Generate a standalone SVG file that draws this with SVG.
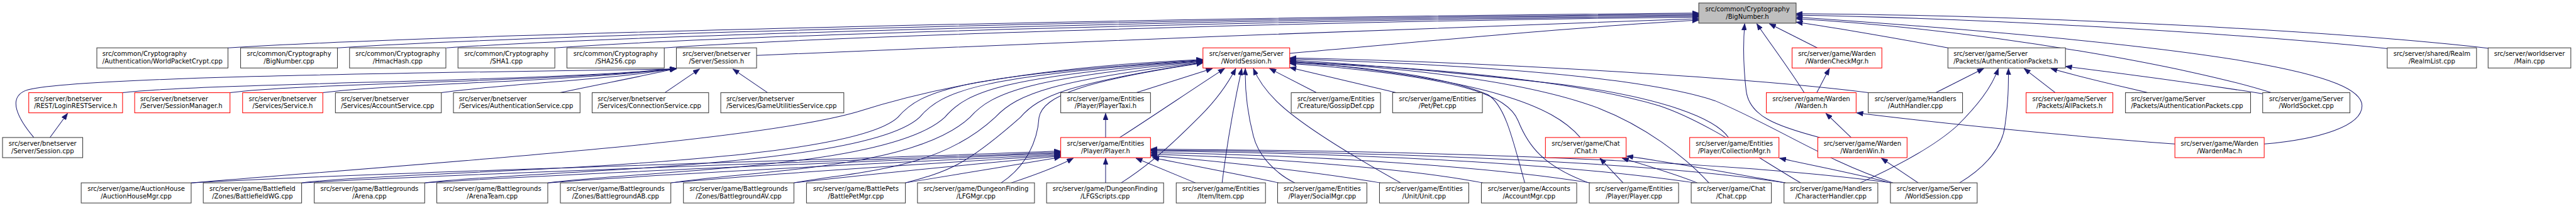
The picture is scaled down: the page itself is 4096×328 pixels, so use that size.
<svg xmlns="http://www.w3.org/2000/svg" width="4096" height="328" viewBox="0 0 4096 328">
<style>
.node rect{fill:#fff;stroke:#3a3a3a;stroke-width:1.3}
.red rect{stroke:#ff0000}
.root rect{fill:#bfbfbf}
.node text{font-family:"DejaVu Sans","Liberation Sans",sans-serif;font-size:12.55px;fill:#000}
.node text.m{text-anchor:middle}
#edges path{fill:none;stroke:#191970;stroke-width:1.25;marker-end:url(#a)}
</style>
<defs>
<marker id="a" markerUnits="userSpaceOnUse" markerWidth="14" markerHeight="10" viewBox="0 0 14 10" refX="13" refY="5" orient="auto"><path d="M0,0 L13,5 L0,10 z" fill="#191970" stroke="#191970" stroke-width="0.8"/></marker>
</defs>
<rect width="4096" height="328" fill="#fff"/>
<g transform="scale(0.802)">
<g id="edges">
<path d="M452,95 C 900,68 2200,36 3368,26"/>
<path d="M669,95 C 1100,68 2300,37 3368,28"/>
<path d="M885,95 C 1250,70 2400,38 3368,30"/>
<path d="M1100,95 C 1450,70 2500,40 3368,32"/>
<path d="M1317,95 C 1650,72 2600,42 3368,34"/>
<path d="M1500,110 C 2000,90 2900,50 3368,37"/>
<path d="M2557,106 C 2800,85 3100,55 3368,40"/>
<path d="M3862,95 C 3780,80 3660,58 3561,44"/>
<path d="M4503,184 C 4350,135 3950,60 3561,37"/>
<path d="M4489,286 C 4600,276 4683,250 4683,210 C 4683,150 4450,95 3561,34"/>
<path d="M4738,97 C 4500,72 4000,38 3561,30"/>
<path d="M4935,96 C 4600,58 4000,30 3561,27"/>
<path d="M3577,184 C 3550,140 3505,80 3483,47"/>
<path d="M3603,95 L3508,47"/>
<path d="M3608,273 C 3520,250 3468,230 3462,180 C 3456,130 3456,85 3459,47"/>
<path d="M67,273 C 35,235 15,195 50,180 C 120,155 700,146 1341,137"/>
<path d="M243,184 C 420,164 1100,162 1341,136"/>
<path d="M456,184 C 600,165 1100,163 1341,136"/>
<path d="M640,184 C 780,166 1120,163 1341,136"/>
<path d="M875,184 C 1000,166 1180,162 1341,136"/>
<path d="M1110,184 C 1200,165 1270,152 1341,136"/>
<path d="M1318,184 L1387,137"/>
<path d="M1522,184 L1453,137"/>
<path d="M99,273 L134,225"/>
<path d="M379,363 C 800,340 1700,316 2103,300"/>
<path d="M598,363 C 950,342 1750,318 2103,302"/>
<path d="M842,363 C 1150,342 1800,318 2103,304"/>
<path d="M1086,363 C 1350,342 1850,320 2103,306"/>
<path d="M1330,363 C 1550,342 1900,322 2103,308"/>
<path d="M1574,363 C 1750,343 1950,324 2103,310"/>
<path d="M1795,363 C 1900,345 2000,330 2103,312"/>
<path d="M2005,363 C 2050,348 2095,332 2128,314"/>
<path d="M379,363 C 900,320 1500,280 1700,222 C 1800,190 2000,135 2385,118"/>
<path d="M598,363 C 800,338 1670,335 1780,233 C 1825,180 1900,150 2385,119"/>
<path d="M842,363 C 1040,338 1713,335 1823,233 C 1868,180 1943,150 2385,120"/>
<path d="M1086,363 C 1280,338 1763,335 1873,233 C 1918,180 1993,152 2385,121"/>
<path d="M1330,363 C 1500,338 1813,335 1923,233 C 1968,182 2043,155 2385,122"/>
<path d="M1574,363 C 1720,338 1863,335 1973,233 C 2018,185 2090,160 2385,123"/>
<path d="M1795,363 C 1880,340 1913,330 2023,233 C 2060,190 2120,165 2385,124"/>
<path d="M1985,363 C 2035,330 2057,280 2060,233 C 2068,190 2150,160 2385,125"/>
<path d="M2253,184 L2404,136"/>
<path d="M2220,273 C 2290,228 2360,180 2428,136"/>
<path d="M2223,363 C 2290,320 2340,270 2380,230 C 2410,200 2435,165 2450,136"/>
<path d="M2423,363 C 2432,290 2448,200 2462,136"/>
<path d="M2567,363 C 2530,345 2495,310 2485,270 C 2472,220 2468,180 2469,136"/>
<path d="M2777,363 C 2700,320 2580,250 2530,200 C 2510,180 2495,160 2485,136"/>
<path d="M2610,184 L2517,136"/>
<path d="M2768,184 L2557,134"/>
<path d="M3704,184 C 3500,158 3000,124 2557,115"/>
<path d="M3753,363 C 3620,320 3520,250 3400,200 C 3250,150 2900,128 2557,117"/>
<path d="M3427,273 C 3400,235 3300,195 3100,168 C 2900,145 2700,128 2557,119"/>
<path d="M3133,273 C 3080,210 2950,158 2557,121"/>
<path d="M3388,363 C 3340,310 3260,250 3170,215 C 3050,170 2850,138 2557,122"/>
<path d="M3570,363 C 3480,310 3380,240 3290,210 C 3100,155 2800,132 2557,123"/>
<path d="M3023,363 C 3000,280 2985,210 2950,188 C 2850,145 2650,128 2557,125"/>
<path d="M3150,363 C 3060,330 3030,290 3010,240 C 2990,190 2900,152 2557,126"/>
<path d="M2535,363 C 2450,345 2360,328 2285,313"/>
<path d="M2737,363 C 2600,340 2400,318 2281,309"/>
<path d="M2940,363 C 2800,335 2500,312 2281,306"/>
<path d="M3153,363 C 2950,330 2600,308 2281,303"/>
<path d="M3360,363 C 3100,325 2700,304 2281,300"/>
<path d="M3540,363 C 3300,325 2800,302 2281,298"/>
<path d="M3750,363 C 3450,322 2900,300 2281,296"/>
<path d="M2370,363 L2252,314"/>
<path d="M2192,363 L2192,314"/>
<path d="M2192,273 L2192,225"/>
<path d="M3218,363 L3172,314"/>
<path d="M3365,363 C 3320,345 3270,330 3216,314"/>
<path d="M3540,363 C 3440,345 3330,325 3225,310"/>
<path d="M3748,363 C 3680,345 3600,330 3528,314"/>
<path d="M3803,363 L3730,314"/>
<path d="M3670,273 L3620,225"/>
<path d="M4312,286 C 4100,270 3850,245 3681,224"/>
<path d="M3602,184 L3627,136"/>
<path d="M3838,184 L3933,136"/>
<path d="M3688,363 C 3750,335 3830,295 3880,250 C 3920,210 3948,175 3962,136"/>
<path d="M3885,363 C 3940,330 3970,290 3975,250 C 3982,200 3982,170 3982,136"/>
<path d="M4075,184 L4013,136"/>
<path d="M4258,184 C 4200,170 4120,152 4066,136"/>
<path d="M4486,186 C 4350,165 4200,145 4095,132"/>
</g>
<g id="n_bignumber_h" class="node root"><rect x="3368" y="6" width="193" height="40"/><text class="m" x="3464.5" y="22.2">src/common/Cryptography</text><text class="m" x="3464.5" y="36.9">/BigNumber.h</text></g>
<g id="n_worldpacketcrypt_cpp" class="node"><rect x="192" y="95" width="260" height="40"/><text x="203" y="111.2">src/common/Cryptography</text><text x="203" y="125.9">/Authentication/WorldPacketCrypt.cpp</text></g>
<g id="n_bignumber_cpp" class="node"><rect x="477" y="95" width="192" height="40"/><text class="m" x="573" y="111.2">src/common/Cryptography</text><text class="m" x="573" y="125.9">/BigNumber.cpp</text></g>
<g id="n_hmachash_cpp" class="node"><rect x="693" y="95" width="191" height="40"/><text class="m" x="788.5" y="111.2">src/common/Cryptography</text><text class="m" x="788.5" y="125.9">/HmacHash.cpp</text></g>
<g id="n_sha1_cpp" class="node"><rect x="908" y="95" width="192" height="40"/><text class="m" x="1004" y="111.2">src/common/Cryptography</text><text class="m" x="1004" y="125.9">/SHA1.cpp</text></g>
<g id="n_sha256_cpp" class="node"><rect x="1124" y="95" width="193" height="40"/><text class="m" x="1220.5" y="111.2">src/common/Cryptography</text><text class="m" x="1220.5" y="125.9">/SHA256.cpp</text></g>
<g id="n_session_h" class="node"><rect x="1341" y="95" width="159" height="40"/><text class="m" x="1420.5" y="111.2">src/server/bnetserver</text><text class="m" x="1420.5" y="125.9">/Server/Session.h</text></g>
<g id="n_worldsession_h" class="node red"><rect x="2385" y="95" width="172" height="40"/><text class="m" x="2471" y="111.2">src/server/game/Server</text><text class="m" x="2471" y="125.9">/WorldSession.h</text></g>
<g id="n_wardencheckmgr_h" class="node red"><rect x="3553" y="95" width="178" height="40"/><text class="m" x="3642" y="111.2">src/server/game/Warden</text><text class="m" x="3642" y="125.9">/WardenCheckMgr.h</text></g>
<g id="n_authpackets_h" class="node"><rect x="3862" y="95" width="233" height="40"/><text x="3873" y="111.2">src/server/game/Server</text><text x="3873" y="125.9">/Packets/AuthenticationPackets.h</text></g>
<g id="n_realmlist_cpp" class="node"><rect x="4733" y="95" width="177" height="40"/><text class="m" x="4821.5" y="111.2">src/server/shared/Realm</text><text class="m" x="4821.5" y="125.9">/RealmList.cpp</text></g>
<g id="n_main_cpp" class="node"><rect x="4933" y="95" width="164" height="40"/><text class="m" x="5015" y="111.2">src/server/worldserver</text><text class="m" x="5015" y="125.9">/Main.cpp</text></g>
<g id="n_loginrestservice_h" class="node red"><rect x="57" y="184" width="186" height="40"/><text x="67.5" y="200.2">src/server/bnetserver</text><text x="67.5" y="214.9">/REST/LoginRESTService.h</text></g>
<g id="n_sessionmanager_h" class="node red"><rect x="267" y="184" width="189" height="40"/><text x="278" y="200.2">src/server/bnetserver</text><text x="278" y="214.9">/Server/SessionManager.h</text></g>
<g id="n_service_h" class="node red"><rect x="481" y="184" width="159" height="40"/><text class="m" x="560.5" y="200.2">src/server/bnetserver</text><text class="m" x="560.5" y="214.9">/Services/Service.h</text></g>
<g id="n_accountservice_cpp" class="node"><rect x="665" y="184" width="210" height="40"/><text x="676" y="200.2">src/server/bnetserver</text><text x="676" y="214.9">/Services/AccountService.cpp</text></g>
<g id="n_authenticationservice_cpp" class="node"><rect x="899" y="184" width="251" height="40"/><text x="910" y="200.2">src/server/bnetserver</text><text x="910" y="214.9">/Services/AuthenticationService.cpp</text></g>
<g id="n_connectionservice_cpp" class="node"><rect x="1174" y="184" width="231" height="40"/><text x="1185" y="200.2">src/server/bnetserver</text><text x="1185" y="214.9">/Services/ConnectionService.cpp</text></g>
<g id="n_gameutilitiesservice_cpp" class="node"><rect x="1429" y="184" width="244" height="40"/><text x="1440" y="200.2">src/server/bnetserver</text><text x="1440" y="214.9">/Services/GameUtilitiesService.cpp</text></g>
<g id="n_playertaxi_h" class="node"><rect x="2103" y="184" width="178" height="40"/><text class="m" x="2192" y="200.2">src/server/game/Entities</text><text class="m" x="2192" y="214.9">/Player/PlayerTaxi.h</text></g>
<g id="n_gossipdef_cpp" class="node"><rect x="2560" y="184" width="177" height="40"/><text class="m" x="2648.5" y="200.2">src/server/game/Entities</text><text class="m" x="2648.5" y="214.9">/Creature/GossipDef.cpp</text></g>
<g id="n_pet_cpp" class="node"><rect x="2761" y="184" width="178" height="40"/><text class="m" x="2850" y="200.2">src/server/game/Entities</text><text class="m" x="2850" y="214.9">/Pet/Pet.cpp</text></g>
<g id="n_warden_h" class="node red"><rect x="3502" y="184" width="178" height="40"/><text class="m" x="3591" y="200.2">src/server/game/Warden</text><text class="m" x="3591" y="214.9">/Warden.h</text></g>
<g id="n_authhandler_cpp" class="node"><rect x="3704" y="184" width="187" height="40"/><text class="m" x="3797.5" y="200.2">src/server/game/Handlers</text><text class="m" x="3797.5" y="214.9">/AuthHandler.cpp</text></g>
<g id="n_allpackets_h" class="node red"><rect x="4017" y="184" width="172" height="40"/><text class="m" x="4103" y="200.2">src/server/game/Server</text><text class="m" x="4103" y="214.9">/Packets/AllPackets.h</text></g>
<g id="n_authpackets_cpp" class="node"><rect x="4214" y="184" width="248" height="40"/><text x="4225" y="200.2">src/server/game/Server</text><text x="4225" y="214.9">/Packets/AuthenticationPackets.cpp</text></g>
<g id="n_worldsocket_cpp" class="node"><rect x="4486" y="184" width="173" height="40"/><text class="m" x="4572.5" y="200.2">src/server/game/Server</text><text class="m" x="4572.5" y="214.9">/WorldSocket.cpp</text></g>
<g id="n_session_cpp" class="node"><rect x="5" y="273" width="159" height="40"/><text class="m" x="84.5" y="289.2">src/server/bnetserver</text><text class="m" x="84.5" y="303.9">/Server/Session.cpp</text></g>
<g id="n_player_h" class="node red"><rect x="2103" y="273" width="178" height="40"/><text class="m" x="2192" y="289.2">src/server/game/Entities</text><text class="m" x="2192" y="303.9">/Player/Player.h</text></g>
<g id="n_chat_h" class="node red"><rect x="3064" y="273" width="160" height="40"/><text class="m" x="3144" y="289.2">src/server/game/Chat</text><text class="m" x="3144" y="303.9">/Chat.h</text></g>
<g id="n_collectionmgr_h" class="node red"><rect x="3350" y="273" width="177" height="40"/><text class="m" x="3438.5" y="289.2">src/server/game/Entities</text><text class="m" x="3438.5" y="303.9">/Player/CollectionMgr.h</text></g>
<g id="n_wardenwin_h" class="node red"><rect x="3604" y="273" width="177" height="40"/><text class="m" x="3692.5" y="289.2">src/server/game/Warden</text><text class="m" x="3692.5" y="303.9">/WardenWin.h</text></g>
<g id="n_wardenmac_h" class="node red"><rect x="4312" y="273" width="177" height="40"/><text class="m" x="4400.5" y="289.2">src/server/game/Warden</text><text class="m" x="4400.5" y="303.9">/WardenMac.h</text></g>
<g id="n_auctionhousemgr_cpp" class="node"><rect x="161" y="363" width="218" height="40"/><text class="m" x="270" y="379.2">src/server/game/AuctionHouse</text><text class="m" x="270" y="393.9">/AuctionHouseMgr.cpp</text></g>
<g id="n_battlefieldwg_cpp" class="node"><rect x="403" y="363" width="195" height="40"/><text class="m" x="500.5" y="379.2">src/server/game/Battlefield</text><text class="m" x="500.5" y="393.9">/Zones/BattlefieldWG.cpp</text></g>
<g id="n_arena_cpp" class="node"><rect x="623" y="363" width="219" height="40"/><text class="m" x="732.5" y="379.2">src/server/game/Battlegrounds</text><text class="m" x="732.5" y="393.9">/Arena.cpp</text></g>
<g id="n_arenateam_cpp" class="node"><rect x="866" y="363" width="220" height="40"/><text class="m" x="976" y="379.2">src/server/game/Battlegrounds</text><text class="m" x="976" y="393.9">/ArenaTeam.cpp</text></g>
<g id="n_battlegroundab_cpp" class="node"><rect x="1111" y="363" width="219" height="40"/><text class="m" x="1220.5" y="379.2">src/server/game/Battlegrounds</text><text class="m" x="1220.5" y="393.9">/Zones/BattlegroundAB.cpp</text></g>
<g id="n_battlegroundav_cpp" class="node"><rect x="1355" y="363" width="219" height="40"/><text class="m" x="1464.5" y="379.2">src/server/game/Battlegrounds</text><text class="m" x="1464.5" y="393.9">/Zones/BattlegroundAV.cpp</text></g>
<g id="n_battlepetmgr_cpp" class="node"><rect x="1599" y="363" width="196" height="40"/><text class="m" x="1697" y="379.2">src/server/game/BattlePets</text><text class="m" x="1697" y="393.9">/BattlePetMgr.cpp</text></g>
<g id="n_lfgmgr_cpp" class="node"><rect x="1819" y="363" width="232" height="40"/><text class="m" x="1935" y="379.2">src/server/game/DungeonFinding</text><text class="m" x="1935" y="393.9">/LFGMgr.cpp</text></g>
<g id="n_lfgscripts_cpp" class="node"><rect x="2075" y="363" width="232" height="40"/><text class="m" x="2191" y="379.2">src/server/game/DungeonFinding</text><text class="m" x="2191" y="393.9">/LFGScripts.cpp</text></g>
<g id="n_item_cpp" class="node"><rect x="2332" y="363" width="177" height="40"/><text class="m" x="2420.5" y="379.2">src/server/game/Entities</text><text class="m" x="2420.5" y="393.9">/Item/Item.cpp</text></g>
<g id="n_socialmgr_cpp" class="node"><rect x="2533" y="363" width="177" height="40"/><text class="m" x="2621.5" y="379.2">src/server/game/Entities</text><text class="m" x="2621.5" y="393.9">/Player/SocialMgr.cpp</text></g>
<g id="n_unit_cpp" class="node"><rect x="2735" y="363" width="177" height="40"/><text class="m" x="2823.5" y="379.2">src/server/game/Entities</text><text class="m" x="2823.5" y="393.9">/Unit/Unit.cpp</text></g>
<g id="n_accountmgr_cpp" class="node"><rect x="2937" y="363" width="189" height="40"/><text class="m" x="3031.5" y="379.2">src/server/game/Accounts</text><text class="m" x="3031.5" y="393.9">/AccountMgr.cpp</text></g>
<g id="n_player_cpp" class="node"><rect x="3151" y="363" width="177" height="40"/><text class="m" x="3239.5" y="379.2">src/server/game/Entities</text><text class="m" x="3239.5" y="393.9">/Player/Player.cpp</text></g>
<g id="n_chat_cpp" class="node"><rect x="3353" y="363" width="159" height="40"/><text class="m" x="3432.5" y="379.2">src/server/game/Chat</text><text class="m" x="3432.5" y="393.9">/Chat.cpp</text></g>
<g id="n_characterhandler_cpp" class="node"><rect x="3537" y="363" width="186" height="40"/><text class="m" x="3630" y="379.2">src/server/game/Handlers</text><text class="m" x="3630" y="393.9">/CharacterHandler.cpp</text></g>
<g id="n_worldsession_cpp" class="node"><rect x="3748" y="363" width="172" height="40"/><text class="m" x="3834" y="379.2">src/server/game/Server</text><text class="m" x="3834" y="393.9">/WorldSession.cpp</text></g>
</g>
</svg>
